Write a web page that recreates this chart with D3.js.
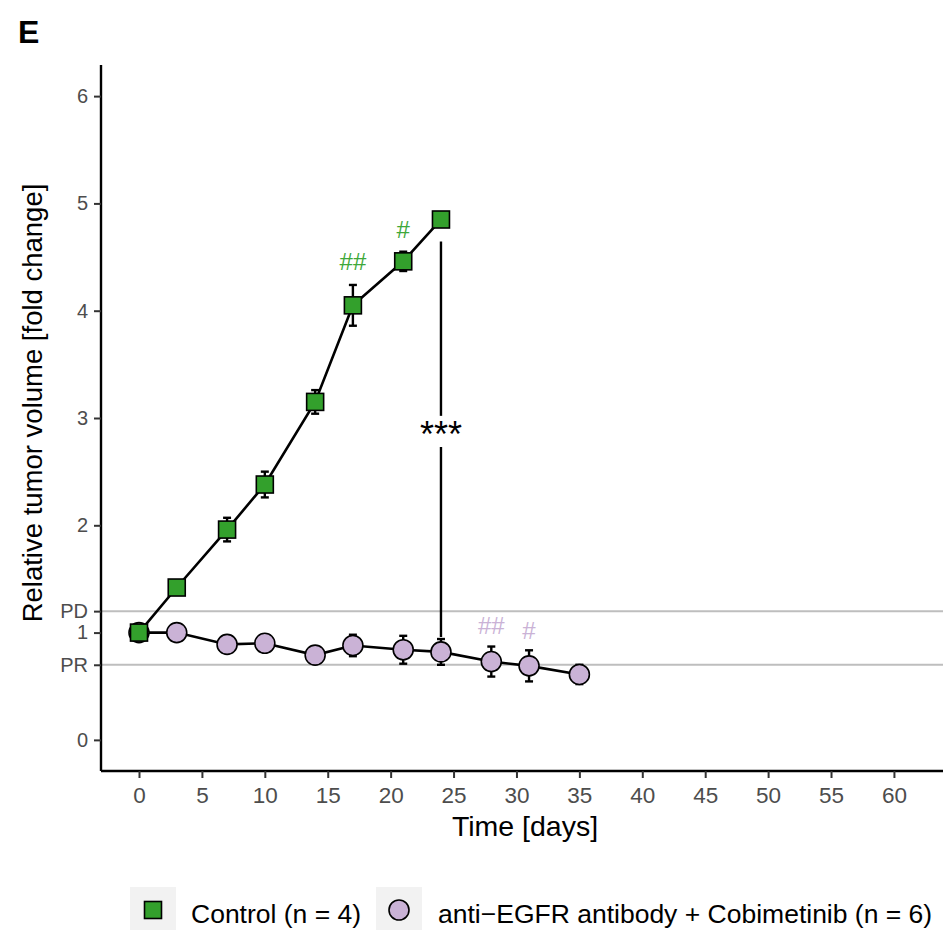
<!DOCTYPE html>
<html>
<head>
<meta charset="utf-8">
<script src="https://cdn.jsdelivr.net/npm/d3@7"></script>
<style>
  body { margin: 0; background: #fff; }
  text { font-family: "Liberation Sans", Arial, sans-serif; }
</style>
</head>
<body>
<script>
// data
var days = [0, 3, 7, 10, 14, 17, 21, 24, 28, 31, 35];
var controlDays = [0, 3, 7, 10, 14, 17, 21, 24];
var controlMean = [1.0, 1.42, 1.96, 2.38, 3.15, 4.05, 4.46, 4.85];
var controlErr  = [0.02, 0.03, 0.11, 0.12, 0.11, 0.19, 0.09, 0.05];
var comboMean = [1.0, 1.0, 0.89, 0.9, 0.79, 0.88, 0.84, 0.82, 0.73, 0.69, 0.61];
var comboErr  = [0.02, 0.02, 0.03, 0.03, 0.03, 0.1, 0.13, 0.12, 0.14, 0.145, 0.09];
var xTicks = [0, 5, 10, 15, 20, 25, 30, 35, 40, 45, 50, 55, 60];
var yTicks = [0, 1, 2, 3, 4, 5, 6];
var refLines = [{label: "PD", value: 1.2}, {label: "PR", value: 0.7}];
var controlMarks = [{day: 17, text: "##", y: 4.38}, {day: 21, text: "#", y: 4.68}];
var comboMarks = [{day: 28, text: "##", y: 0.99}, {day: 31, text: "#", y: 0.94}];
var legendLabels = ["Control (n = 4)", "anti\u2212EGFR antibody + Cobimetinib (n = 6)"];

var green = "#33a02c", purple = "#cab2d6";

var w = 943, h = 930;
var svg = d3.select("body").append("svg")
    .attr("width", w)
    .attr("height", h);

var x = d3.scaleLinear().domain([-3.02, 63.9]).range([101, 943]);
var y = d3.scaleLinear().domain([-0.29, 6.29]).range([771, 65]);

// panel label
svg.append("text")
    .attr("x", 18).attr("y", 43)
    .attr("font-size", 32).attr("font-weight", "bold")
    .text("E");

// reference lines
svg.selectAll(".ref")
    .data(refLines)
    .enter().append("line")
    .attr("x1", 101).attr("x2", 943)
    .attr("y1", d => y(d.value)).attr("y2", d => y(d.value))
    .attr("stroke", "#bebebe").attr("stroke-width", 2);

// axes
var xAxis = svg.append("g")
    .attr("transform", "translate(0,771)")
    .call(d3.axisBottom(x).tickValues(xTicks).tickSize(7).tickPadding(9));
var yAxis = svg.append("g")
    .attr("transform", "translate(101,0)")
    .call(d3.axisLeft(y).tickValues(yTicks.concat(refLines.map(d => d.value)))
        .tickFormat(function(d) {
            var r = refLines.find(e => e.value === d);
            return r ? r.label : d;
        })
        .tickSize(7).tickPadding(6));
[xAxis, yAxis].forEach(function(g) {
    g.select(".domain").attr("stroke", "#000").attr("stroke-width", 2.4);
    g.selectAll(".tick line").attr("stroke", "#333").attr("stroke-width", 2);
    g.selectAll(".tick text").attr("fill", "#4d4d4d").attr("font-size", 22.5)
        .style("font-family", "Liberation Sans, Arial, sans-serif");
});
yAxis.selectAll(".tick text").attr("font-size", 20);
xAxis.select(".domain").attr("d", "M101,0H943");
yAxis.select(".domain").attr("d", "M0,65V771");

// axis titles
svg.append("text")
    .attr("x", 525).attr("y", 836)
    .attr("text-anchor", "middle").attr("font-size", 28.5)
    .text("Time [days]");
svg.append("text")
    .attr("transform", "translate(42,403) rotate(-90)")
    .attr("text-anchor", "middle").attr("font-size", 27.5)
    .text("Relative tumor volume [fold change]");

// significance bracket
svg.append("line")
    .attr("x1", x(24)).attr("x2", x(24))
    .attr("y1", y(controlMean[7]) + 22).attr("y2", y(3.02))
    .attr("stroke", "#000").attr("stroke-width", 2.4);
svg.append("line")
    .attr("x1", x(24)).attr("x2", x(24))
    .attr("y1", y(2.73)).attr("y2", y(comboMean[7] + comboErr[7]) - 2)
    .attr("stroke", "#000").attr("stroke-width", 2.4);
svg.append("text")
    .attr("x", x(24)).attr("y", y(2.73))
    .attr("text-anchor", "middle").attr("font-size", 36)
    .text("***");

var control = controlDays.map((d, i) => ({day: d, mean: controlMean[i], err: controlErr[i]}));
var combo = days.map((d, i) => ({day: d, mean: comboMean[i], err: comboErr[i]}));

var line = d3.line().x(d => x(d.day)).y(d => y(d.mean));

function errorBars(data, cls) {
    var g = svg.append("g").attr("class", cls);
    g.selectAll("line.v").data(data).enter().append("line")
        .attr("x1", d => x(d.day)).attr("x2", d => x(d.day))
        .attr("y1", d => y(d.mean - d.err)).attr("y2", d => y(d.mean + d.err))
        .attr("stroke", "#000").attr("stroke-width", 2.4);
    ["top", "bottom"].forEach(function(side) {
        g.selectAll("line." + side).data(data).enter().append("line")
            .attr("x1", d => x(d.day) - 4).attr("x2", d => x(d.day) + 4)
            .attr("y1", d => y(side === "top" ? d.mean + d.err : d.mean - d.err))
            .attr("y2", d => y(side === "top" ? d.mean + d.err : d.mean - d.err))
            .attr("stroke", "#000").attr("stroke-width", 2.4);
    });
}

errorBars(combo, "comboErr");
errorBars(control, "controlErr");

svg.append("path").datum(combo)
    .attr("d", line).attr("fill", "none")
    .attr("stroke", "#000").attr("stroke-width", 2.6);
svg.append("path").datum(control)
    .attr("d", line).attr("fill", "none")
    .attr("stroke", "#000").attr("stroke-width", 2.6);

svg.selectAll("circle.combo").data(combo).enter().append("circle")
    .attr("cx", d => x(d.day)).attr("cy", d => y(d.mean))
    .attr("r", 10)
    .attr("fill", purple).attr("stroke", "#000").attr("stroke-width", 1.6);

svg.selectAll("rect.control").data(control).enter().append("rect")
    .attr("x", d => x(d.day) - 8.5).attr("y", d => y(d.mean) - 8.5)
    .attr("width", 17).attr("height", 17)
    .attr("fill", green).attr("stroke", "#000").attr("stroke-width", 1.6);

// # annotations
svg.selectAll("text.cm").data(controlMarks).enter().append("text")
    .attr("x", d => x(d.day)).attr("y", d => y(d.y))
    .attr("text-anchor", "middle").attr("font-size", 24)
    .attr("fill", "#3ea83a").text(d => d.text);
svg.selectAll("text.pm").data(comboMarks).enter().append("text")
    .attr("x", d => x(d.day)).attr("y", d => y(d.y))
    .attr("text-anchor", "middle").attr("font-size", 24)
    .attr("fill", purple).text(d => d.text);

// legend
var legend = svg.append("g");
legend.append("rect").attr("x", 130).attr("y", 887).attr("width", 46).attr("height", 46).attr("fill", "#f2f2f2");
legend.append("rect").attr("x", 144.5).attr("y", 901.5).attr("width", 17).attr("height", 17)
    .attr("fill", green).attr("stroke", "#000").attr("stroke-width", 1.6);
legend.append("text").attr("x", 191).attr("y", 923).attr("font-size", 26.5).text(legendLabels[0]);
legend.append("rect").attr("x", 376).attr("y", 887).attr("width", 46).attr("height", 46).attr("fill", "#f2f2f2");
legend.append("circle").attr("cx", 399).attr("cy", 910).attr("r", 10)
    .attr("fill", purple).attr("stroke", "#000").attr("stroke-width", 1.6);
legend.append("text").attr("x", 438).attr("y", 923).attr("font-size", 26.5).text(legendLabels[1]);
</script>
</body>
</html>
